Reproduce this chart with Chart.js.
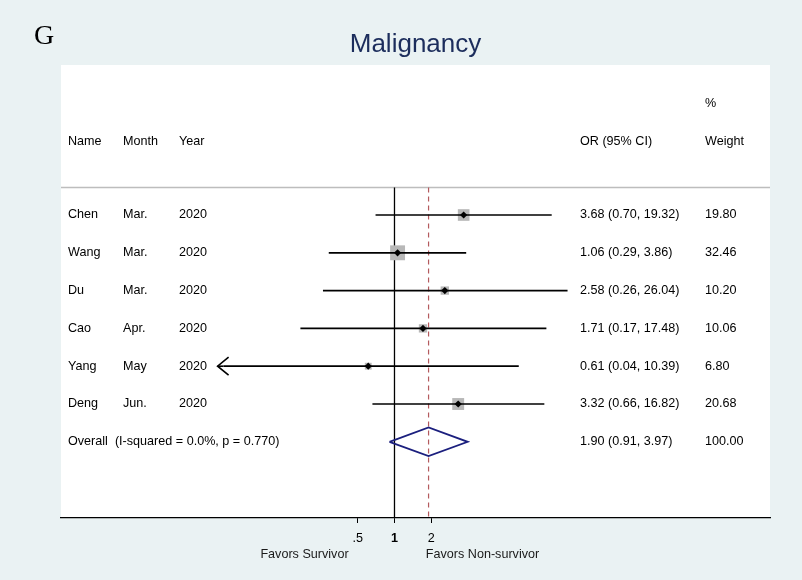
<!DOCTYPE html>
<html>
<head>
<meta charset="utf-8">
<script src="https://cdn.jsdelivr.net/npm/chart.js@4.4.1/dist/chart.umd.min.js"></script>
<style>
  html, body { margin: 0; padding: 0; background: #eaf2f3; }
  canvas { display: block; }
</style>
</head>
<body>
<canvas id="forest" width="802" height="580"></canvas>
<script>
// ---- Study data ----
const studyNames  = ['Chen', 'Wang', 'Du', 'Cao', 'Yang', 'Deng'];
const studyMonths = ['Mar.', 'Mar.', 'Mar.', 'Apr.', 'May', 'Jun.'];
const studyYears  = ['2020', '2020', '2020', '2020', '2020', '2020'];
const oddsRatio   = [3.68, 1.06, 2.58, 1.71, 0.61, 3.32];
const ciLower     = [0.70, 0.29, 0.26, 0.17, 0.04, 0.66];
const ciUpper     = [19.32, 3.86, 26.04, 17.48, 10.39, 16.82];
const weights     = [19.80, 32.46, 10.20, 10.06, 6.80, 20.68];
const lowerArrow  = [false, false, false, false, true, false];

// ---- Pooled estimate ----
const overallOR     = 1.90;
const overallLower  = 0.91;
const overallUpper  = 3.97;
const overallWeight = 100.00;
const overallLabel  = 'Overall  (I-squared = 0.0%, p = 0.770)';

// ---- Axis ----
const tickValues = [0.5, 1, 2];
const tickLabels = ['.5', '1', '2'];
const leftCaption  = 'Favors Survivor';
const rightCaption = 'Favors Non-survivor';
const chartTitle   = 'Malignancy';
const panelLetter  = 'G';

// ---- Layout helpers (row units on the y scale) ----
const FONT = "'Liberation Sans', Arial, Helvetica, sans-serif";
const ROW_GAP = 37.8;                 // px between rows
const overallRow = studyNames.length; // pooled row sits under the studies
const yMin = -150 / ROW_GAP;
const yMax = 303 / ROW_GAP;
const sepRow = -27.5 / ROW_GAP;       // rule under the column headers
const headRow = -73 / ROW_GAP;
const pctRow = -111 / ROW_GAP;
const xMin = Math.pow(2, -9.062);
const xMax = Math.pow(2, 10.204);
const diamondHalf = 0.38;

const fmt = v => v.toFixed(2);

// ---- Datasets ----
const datasets = [];

// reference line at OR = 1
datasets.push({
  data: [{ x: 1, y: sepRow }, { x: 1, y: yMax }],
  showLine: true, borderColor: '#000', borderWidth: 1.3,
  pointRadius: 0, order: 9
});
// dashed line at the pooled OR
datasets.push({
  data: [{ x: overallOR, y: sepRow }, { x: overallOR, y: yMax }],
  showLine: true, borderColor: '#b45a5e', borderWidth: 1.2, borderDash: [5, 4],
  pointRadius: 0, order: 8
});
// weight boxes
datasets.push({
  data: oddsRatio.map((v, i) => ({ x: v, y: i })),
  pointStyle: 'rect',
  pointRadius: weights.map(w => 1.85 * Math.sqrt(w)),
  backgroundColor: '#b8b8b8', borderWidth: 0, order: 7
});
// confidence intervals
oddsRatio.forEach((v, i) => {
  datasets.push({
    data: [{ x: ciLower[i], y: i }, { x: ciUpper[i], y: i }],
    showLine: true, borderColor: '#000', borderWidth: 1.7,
    pointRadius: 0, order: 5
  });
});
// point estimates
datasets.push({
  data: oddsRatio.map((v, i) => ({ x: v, y: i })),
  pointStyle: 'rectRot', pointRadius: 3.6,
  backgroundColor: '#000', borderWidth: 0, order: 2
});
// pooled diamond
datasets.push({
  data: [
    { x: overallLower, y: overallRow },
    { x: overallOR, y: overallRow - diamondHalf },
    { x: overallUpper, y: overallRow },
    { x: overallOR, y: overallRow + diamondHalf },
    { x: overallLower, y: overallRow }
  ],
  showLine: true, borderColor: '#1b1f7e', borderWidth: 1.8,
  pointRadius: 0, fill: false, order: 1
});

// ---- Background panels ----
const panelPlugin = {
  id: 'panels',
  beforeDraw(chart) {
    const { ctx, chartArea: a, width, height } = chart;
    ctx.save();
    ctx.fillStyle = '#eaf2f3';
    ctx.fillRect(0, 0, width, height);
    ctx.fillStyle = '#ffffff';
    ctx.fillRect(a.left, a.top, a.right - a.left, a.bottom - a.top);
    const y = chart.scales.y.getPixelForValue(sepRow);
    ctx.strokeStyle = '#bdbdbd';
    ctx.lineWidth = 1.5;
    ctx.beginPath();
    ctx.moveTo(a.left, y);
    ctx.lineTo(a.right, y);
    ctx.stroke();
    ctx.restore();
  }
};

// ---- Text columns, arrows and captions ----
const textPlugin = {
  id: 'forestText',
  afterDatasetsDraw(chart) {
    const { ctx, chartArea: a, scales } = chart;
    const xs = scales.x, ys = scales.y;
    ctx.save();

    // truncated intervals get an arrow head
    ctx.strokeStyle = '#000';
    ctx.lineWidth = 1.6;
    lowerArrow.forEach((flag, i) => {
      if (!flag) return;
      const tx = xs.getPixelForValue(ciLower[i]) - 6;
      const ty = ys.getPixelForValue(i);
      ctx.beginPath();
      ctx.moveTo(tx + 6, ty);
      ctx.lineTo(tx, ty);
      ctx.stroke();
      ctx.beginPath();
      ctx.moveTo(tx + 11, ty - 9);
      ctx.lineTo(tx, ty);
      ctx.lineTo(tx + 11, ty + 9);
      ctx.stroke();
    });

    ctx.fillStyle = '#000';
    ctx.textBaseline = 'middle';
    ctx.font = '12.6px ' + FONT;
    ctx.textAlign = 'left';

    const colName = a.left + 7, colMonth = a.left + 62, colYear = a.left + 118;
    const colOR = 580, colW = 705;

    const hy = ys.getPixelForValue(headRow);
    ctx.fillText('Name', colName, hy);
    ctx.fillText('Month', colMonth, hy);
    ctx.fillText('Year', colYear, hy);
    ctx.fillText('OR (95% CI)', colOR, hy);
    ctx.fillText('Weight', colW, hy);
    ctx.fillText('%', colW, ys.getPixelForValue(pctRow));

    studyNames.forEach((n, i) => {
      const y = ys.getPixelForValue(i);
      ctx.fillText(n, colName, y);
      ctx.fillText(studyMonths[i], colMonth, y);
      ctx.fillText(studyYears[i], colYear, y);
      ctx.fillText(`${fmt(oddsRatio[i])} (${fmt(ciLower[i])}, ${fmt(ciUpper[i])})`, colOR, y);
      ctx.fillText(fmt(weights[i]), colW, y);
    });
    const oy = ys.getPixelForValue(overallRow);
    ctx.fillText(overallLabel, colName, oy);
    ctx.fillText(`${fmt(overallOR)} (${fmt(overallLower)}, ${fmt(overallUpper)})`, colOR, oy);
    ctx.fillText(fmt(overallWeight), colW, oy);

    // axis captions
    ctx.textAlign = 'center';
    ctx.fillStyle = '#1a1a1a';
    const capY = a.bottom + 37;
    ctx.fillText(leftCaption, xs.getPixelForValue(1) - 90, capY);
    ctx.fillText(rightCaption, xs.getPixelForValue(1) + 88, capY);

    // title and panel letter
    ctx.fillStyle = '#1c2d5c';
    ctx.font = '26px ' + FONT;
    ctx.fillText(chartTitle, (a.left + a.right) / 2, 45);
    ctx.fillStyle = '#000';
    ctx.textAlign = 'left';
    ctx.font = "28px 'Liberation Serif', 'Times New Roman', serif";
    ctx.fillText(panelLetter, 34, 37);
    ctx.restore();
  }
};

new Chart(document.getElementById('forest'), {
  type: 'scatter',
  data: { datasets },
  options: {
    responsive: false,
    animation: false,
    devicePixelRatio: 1,
    layout: { padding: { left: 61, right: 32, top: 65, bottom: 0 } },
    plugins: { legend: { display: false }, tooltip: { enabled: false } },
    scales: {
      x: {
        type: 'logarithmic',
        min: xMin,
        max: xMax,
        afterBuildTicks: s => { s.ticks = tickValues.map(v => ({ value: v })); },
        afterFit: s => { s.height = 62; },
        ticks: {
          autoSkip: false,
          maxRotation: 0,
          padding: 8,
          color: '#000',
          callback: (v, i) => tickLabels[i],
          font: ctx => ({
            family: FONT, size: 12.6,
            weight: (ctx.tick && ctx.tick.value === 1) ? 'bold' : 'normal'
          })
        },
        grid: { drawOnChartArea: false, drawTicks: true, tickLength: 5, color: '#000', lineWidth: 1 },
        border: { display: true, color: '#000', width: 1.2 }
      },
      y: { type: 'linear', display: false, min: yMin, max: yMax, reverse: true }
    }
  },
  plugins: [panelPlugin, textPlugin]
});
</script>
</body>
</html>
